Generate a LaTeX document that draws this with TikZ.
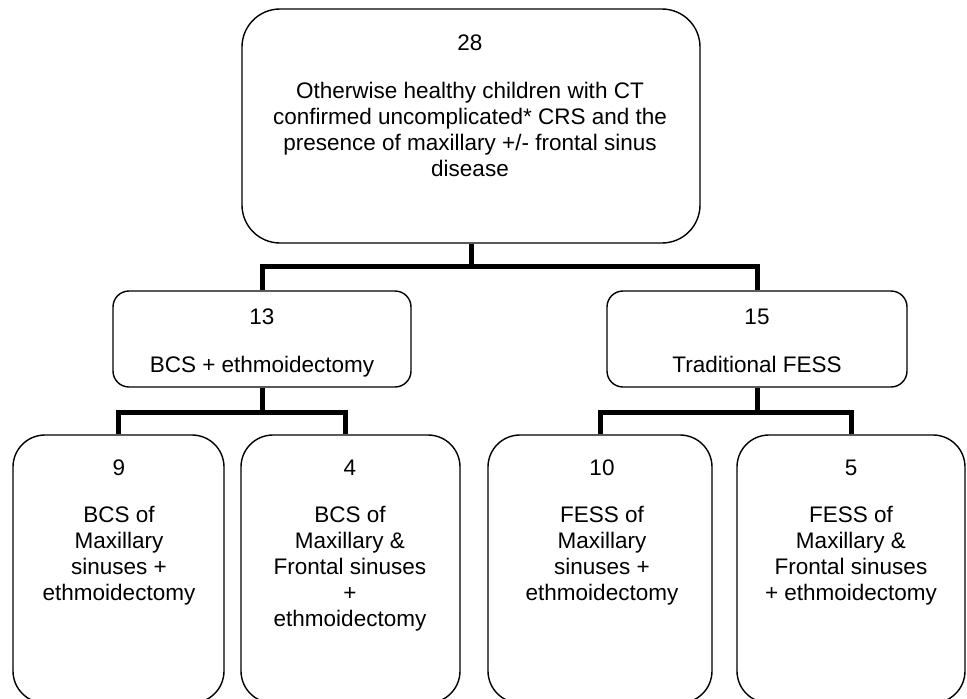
\documentclass[tikz,border=0pt]{standalone}
\usepackage{fontspec}
\setmainfont{Liberation Sans}
\begin{document}
\begin{tikzpicture}[x=1pt,y=-1pt,
  boxbig/.style={draw, line width=1.4pt, rounded corners=38pt, inner sep=0pt, minimum width=458pt, minimum height=234pt},
  boxmid/.style={draw, line width=1.4pt, rounded corners=16pt, inner sep=0pt, minimum height=96pt},
  boxlow/.style={draw, line width=1.4pt, rounded corners=32pt, inner sep=0pt, minimum height=268pt},
  lbl/.style={font=\fontsize{22.5}{26}\selectfont, align=center, inner sep=0pt, anchor=north},
  conn/.style={draw, line width=5pt, line join=miter}]
\useasboundingbox (0,0) rectangle (967,699);
% boxes
\node[boxbig] (top) at (471,126) {};
\node[boxmid, minimum width=298pt] (m1) at (262,339) {};
\node[boxmid, minimum width=300pt] (m2) at (757,339) {};
\node[boxlow, minimum width=211pt] (b1) at (118.5,569) {};
\node[boxlow, minimum width=219pt] (b2) at (350.5,569) {};
\node[boxlow, minimum width=224pt] (b3) at (600,569) {};
\node[boxlow, minimum width=228pt] (b4) at (851,569) {};
% texts
\node[lbl] (ttop) at (470,35) {28\\[22pt]Otherwise healthy children with CT\\confirmed uncomplicated* CRS and the\\presence of maxillary +/- frontal sinus\\disease};
\node[lbl] (tm1) at (262,309) {13\\[22pt]BCS + ethmoidectomy};
\node[lbl] (tm2) at (757,309) {15\\[22pt]Traditional FESS};
\node[lbl] (tb1) at (119,460) {9\\[21pt]BCS of\\Maxillary\\sinuses +\\ethmoidectomy};
\node[lbl] (tb2) at (350,460) {4\\[21pt]BCS of\\Maxillary \&\\Frontal sinuses\\+\\ethmoidectomy};
\node[lbl] (tb3) at (602,460) {10\\[21pt]FESS of\\Maxillary\\sinuses +\\ethmoidectomy};
\node[lbl] (tb4) at (851,460) {5\\[21pt]FESS of\\Maxillary \&\\Frontal sinuses\\+ ethmoidectomy};
% connectors
\coordinate (j0) at (471,266);
\coordinate (j1) at (262,412);
\coordinate (j2) at (757,412);
\draw[conn] (top.south) -- (j0);
\draw[conn] (m1.north) |- (j0) -| (m2.north);
\draw[conn] (m1.south) -- (j1);
\draw[conn] (b1.north) |- (j1) -| ([xshift=-5pt]b2.north);
\draw[conn] (m2.south) -- (j2);
\draw[conn] (b3.north) |- (j2) -| (b4.north);
\end{tikzpicture}
\end{document}
